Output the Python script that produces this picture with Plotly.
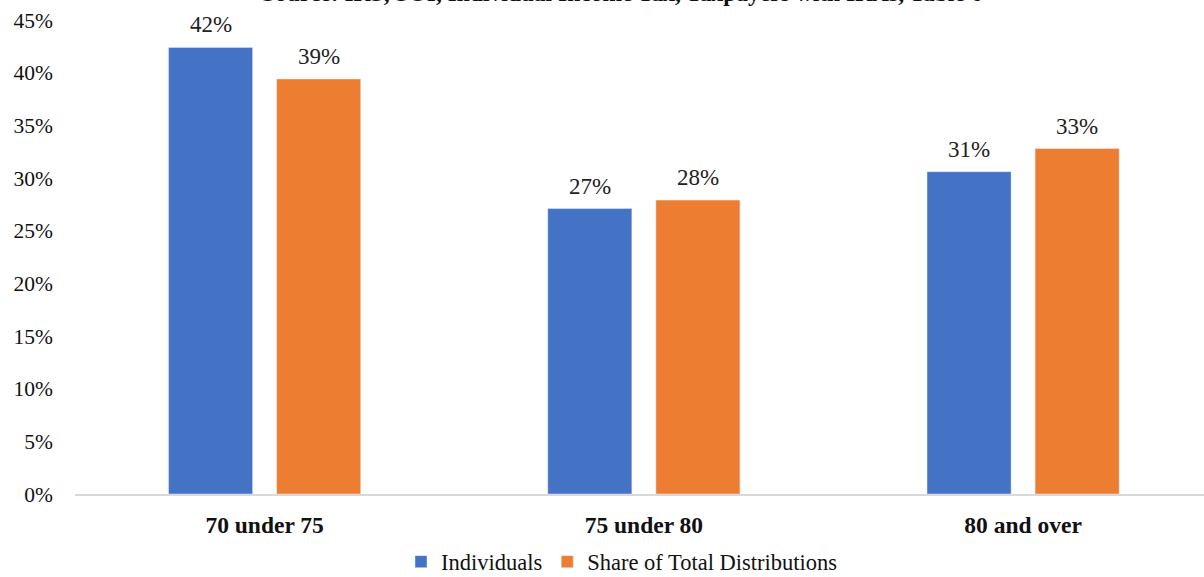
import plotly.graph_objects as go

# Age groups and shares (percent)
age_groups = ["70 under 75", "75 under 80", "80 and over"]
individuals = [42.4, 27.1, 30.6]
share_of_distributions = [39.4, 27.9, 32.8]
y_ticks = [0, 5, 10, 15, 20, 25, 30, 35, 40, 45]
y_tick_labels = [f"{v}%" for v in y_ticks]
source_note = "Source: IRS, SOI, Individual Income Tax, Taxpayers with IRAs, Table 6"

FONT = "Liberation Serif, Times New Roman, serif"
series = [
    ("Individuals", individuals, "#4472C4", -54),
    ("Share of Total Distributions", share_of_distributions, "#ED7D31", 54),
]

fig = go.Figure()
for name, values, color, offset in series:
    fig.add_trace(go.Bar(name=name, x=age_groups, y=values, marker_color=color))
    # value labels above each bar
    for cat, v in zip(age_groups, values):
        fig.add_annotation(
            x=cat, y=v, text=f"{v:.0f}%", showarrow=False,
            xshift=offset, yshift=8, yanchor="bottom",
            font=dict(family=FONT, size=23, color="#222222"),
        )

fig.update_layout(
    width=1204, height=577,
    margin=dict(l=75, r=0, t=20, b=83, autoexpand=False),
    paper_bgcolor="white", plot_bgcolor="white",
    barmode="group", bargap=0.43, bargroupgap=0.222,
    font=dict(family=FONT, size=22, color="#111111"),
    showlegend=True,
    legend=dict(orientation="h", x=0.4845, xanchor="center",
                yref="container", y=1 - 562 / 577, yanchor="middle",
                font=dict(family=FONT, size=22.5, color="#111111"),
                itemwidth=30, tracegroupgap=0),
    xaxis=dict(
        type="category", range=[-0.5, 2.477],
        showline=True, linecolor="#D9D9D9", linewidth=1.5,
        tickfont=dict(family=FONT, size=23.5, color="#111111", weight="bold"),
        ticks="", ticklabelstandoff=9,
    ),
    yaxis=dict(
        range=[0, 45], tickvals=y_ticks, ticktext=y_tick_labels,
        showgrid=False, zeroline=False, showline=False,
        tickfont=dict(family=FONT, size=21.5, color="#111111"),
        ticklabelstandoff=21,
    ),
)

fig.add_annotation(
    text=f"<b>{source_note}</b>", xref="paper", yref="paper",
    x=0.4845, y=1 + 12 / 474, xanchor="center", yanchor="bottom",
    showarrow=False, font=dict(family=FONT, size=23.5, color="#111111"),
)

fig.write_html("out.html")
